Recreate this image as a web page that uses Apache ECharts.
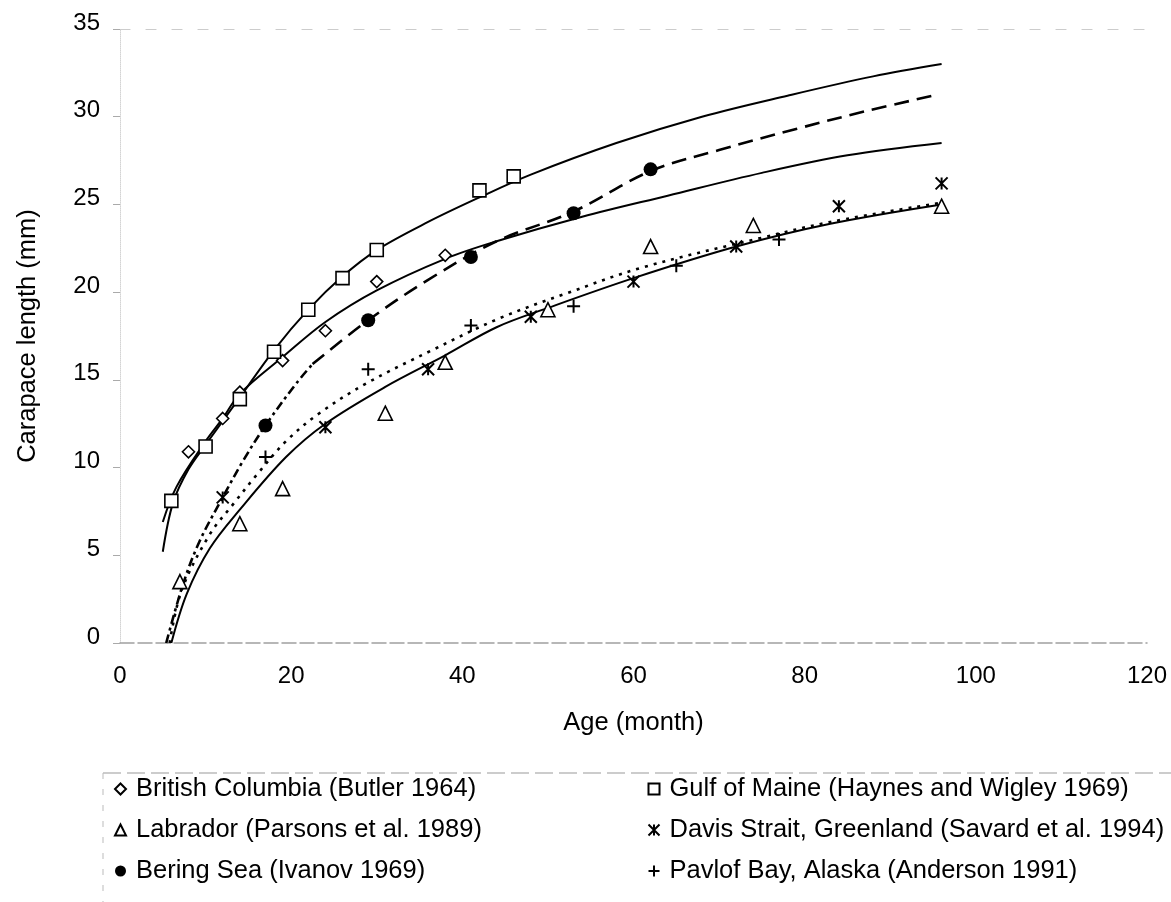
<!DOCTYPE html>
<html>
<head>
<meta charset="utf-8">
<script src="https://cdn.jsdelivr.net/npm/echarts@6/dist/echarts.min.js"></script>
<style>
  html, body { margin: 0; padding: 0; background: #fff; }
  #growthChart { width: 1171px; height: 902px; }
</style>
</head>
<body>
<div id="growthChart"></div>
<script>
// observed points [age (month), carapace length (mm)]
const britishColumbia = [[8,10.9],[12,12.8],[14,14.3],[19,16.1],[24,17.8],[30,20.6],[38,22.1]];
const gulfOfMaine = [[6,8.1],[10,11.2],[14,13.9],[18,16.6],[22,19.0],[26,20.8],[30,22.4],[42,25.8],[46,26.6]];
const labrador = [[7,3.5],[14,6.8],[19,8.8],[31,13.1],[38,16.0],[50,19.0],[62,22.6],[74,23.8],[96,24.9]];
const davisStrait = [[12,8.3],[24,12.3],[36,15.6],[48,18.6],[60,20.6],[72,22.6],[84,24.9],[96,26.2]];
const beringSea = [[17,12.4],[29,18.4],[41,22.0],[53,24.5],[62,27.0]];
const pavlofBay = [[17,10.6],[29,15.6],[41,18.1],[53,19.2],[65,21.5],[77,23.0]];

// fitted growth curves
const fitGulf = [[5,5.2],[6.2,8.0],[8,9.9],[10,11.3],[14,14.0],[18,16.7],[22,19.0],[26,20.9],[30,22.4],[36,24.0],[42,25.4],[48,26.7],[58,28.5],[68,30.0],[78,31.2],[88,32.3],[96,33.0]];
const fitBritish = [[5,6.9],[6.6,8.9],[10,11.5],[12,12.8],[14,14.2],[19,16.3],[24,18.3],[30,20.1],[38,21.9],[44,22.9],[54,24.3],[64,25.5],[75,26.8],[85,27.8],[96,28.5]];
const fitBeringEarly = [[5.4,0],[7.4,3.4],[9.3,5.8],[12,8.3],[14.4,10.4],[17,12.4],[20.6,14.8],[22.5,15.9]];
const fitBeringLate = [[22.5,15.9],[29,18.4],[36,20.7],[44,22.9],[53,24.6],[62,26.9],[70,28.1],[79,29.3],[87,30.3],[95,31.2]];
const fitLabrador = [[6,0],[7.8,2.8],[10.5,5.4],[14,7.6],[19.4,10.6],[24,12.5],[31,14.6],[38,16.4],[44,18.0],[50,19.1],[60,20.8],[72,22.6],[83,23.9],[96,25.0]];
const fitPavlof = [[5.8,0],[7.2,3.0],[10.5,6.2],[13.2,7.9],[16,9.6],[19.4,11.5],[23.3,13.1],[28.8,14.8],[36.5,16.7],[44.3,18.5],[52,19.9],[61,21.4],[75,23.1],[83,24.0],[96,25.1]];

const xTicks = { min: 0, max: 120, interval: 20 };
const yTicks = { min: 0, max: 35, interval: 5 };

const font = 'Liberation Sans, Arial, sans-serif';
const hollow = { color: '#fff', borderColor: '#000', borderWidth: 1.6, opacity: 1 };
const stroked = { color: 'none', borderColor: '#000', borderWidth: 2, opacity: 1 };

function points(name, data, symbol, size, style) {
  return {
    name: name, type: 'scatter', data: data, symbol: symbol, symbolSize: size,
    itemStyle: style, z: 5
  };
}
function curve(name, data, dash, width) {
  return {
    name: name, type: 'line', data: data, showSymbol: false, smooth: 0.35,
    lineStyle: { color: '#000', width: width, type: dash }, z: 3
  };
}

var chart = echarts.init(document.getElementById('growthChart'));
chart.setOption({
  animation: false,
  backgroundColor: '#fff',
  textStyle: { fontFamily: font },
  grid: { left: 120, right: 24, top: 29, bottom: 259 },
  xAxis: [{
    type: 'value', min: xTicks.min, max: xTicks.max, interval: xTicks.interval,
    name: 'Age (month)', nameLocation: 'middle', nameGap: 67,
    nameTextStyle: { fontSize: 25.5, color: '#000', fontFamily: font },
    axisLine: { lineStyle: { color: '#a0a0a0', type: [14, 4], width: 1.5 } },
    axisTick: { show: false },
    axisLabel: { fontSize: 24, color: '#000', margin: 21, fontFamily: font },
    splitLine: { show: false }
  }, {
    type: 'value', position: 'top', min: xTicks.min, max: xTicks.max,
    axisLine: { show: true, lineStyle: { color: '#cccccc', type: [10, 16], width: 1.2 } },
    axisTick: { show: false }, axisLabel: { show: false }, splitLine: { show: false }
  }],
  yAxis: {
    type: 'value', min: yTicks.min, max: yTicks.max, interval: yTicks.interval,
    name: 'Carapace length (mm)', nameLocation: 'middle', nameGap: 79,
    nameTextStyle: { fontSize: 25.5, color: '#000', fontFamily: font },
    axisLine: { show: true, lineStyle: { color: '#d4d4d4', type: 'dotted', width: 1 } },
    axisTick: { show: true, length: 7, lineStyle: { color: '#aaa' } },
    axisLabel: { fontSize: 24, color: '#000', margin: 20, verticalAlign: 'bottom', lineHeight: 12, fontFamily: font },
    splitLine: { show: false }
  },
  legend: [{
    orient: 'vertical', left: 114, top: 776, padding: 0, itemGap: 15,
    itemWidth: 11, itemHeight: 11,
    textStyle: { fontSize: 25.5, color: '#000', padding: [0, 0, 0, 5], fontFamily: font },
    data: ['British Columbia (Butler 1964)', 'Labrador (Parsons et al. 1989)', 'Bering Sea (Ivanov 1969)']
  }, {
    orient: 'vertical', left: 646, top: 776, padding: 0, itemGap: 15,
    itemWidth: 11, itemHeight: 11,
    textStyle: { fontSize: 25.5, color: '#000', padding: [0, 0, 0, 5], fontFamily: font },
    data: ['Gulf of Maine (Haynes and Wigley 1969)', 'Davis Strait, Greenland (Savard et al. 1994)', 'Pavlof Bay, Alaska (Anderson 1991)']
  }],
  graphic: [
    { type: 'line', shape: { x1: 103, y1: 773, x2: 1171, y2: 773 },
      style: { stroke: '#999', lineWidth: 1.2, lineDash: [18, 6] }, silent: true },
    { type: 'line', shape: { x1: 103, y1: 773, x2: 103, y2: 902 },
      style: { stroke: '#bbb', lineWidth: 1, lineDash: [6, 10] }, silent: true }
  ],
  series: [
    curve('Gulf of Maine fit', fitGulf, 'solid', 2),
    curve('British Columbia fit', fitBritish, 'solid', 2),
    curve('Bering Sea fit (early)', fitBeringEarly, [9, 4, 3, 4], 2.6),
    curve('Bering Sea fit', fitBeringLate, [15, 8], 2.6),
    curve('Labrador fit', fitLabrador, 'solid', 2),
    curve('Pavlof Bay fit', fitPavlof, [3, 6], 2.6),
    points('British Columbia (Butler 1964)', britishColumbia, 'path://M0,-1L1,0L0,1L-1,0Z', 12, hollow),
    points('Gulf of Maine (Haynes and Wigley 1969)', gulfOfMaine, 'rect', 13, hollow),
    points('Labrador (Parsons et al. 1989)', labrador, 'triangle', 14, hollow),
    points('Davis Strait, Greenland (Savard et al. 1994)', davisStrait, 'path://M-1,-1L1,1M1,-1L-1,1M0,-1L0,1', 12, stroked),
    points('Bering Sea (Ivanov 1969)', beringSea, 'circle', 14, { color: '#000', opacity: 1 }),
    points('Pavlof Bay, Alaska (Anderson 1991)', pavlofBay, 'path://M-1,0L1,0M0,-1L0,1', 13, stroked)
  ]
});
</script>
</body>
</html>
